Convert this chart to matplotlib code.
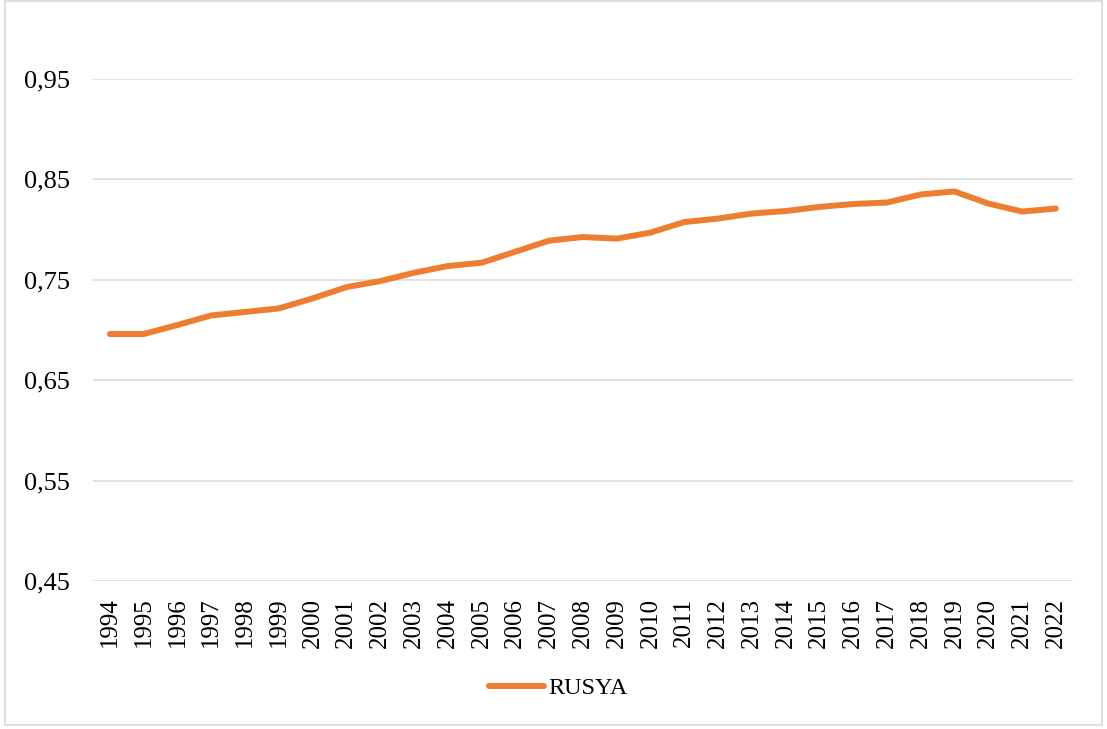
import matplotlib.pyplot as plt
from matplotlib.patches import Rectangle
from matplotlib.ticker import FuncFormatter

# HDI values
years = list(range(1994, 2023))
rusya = [0.696, 0.696, 0.705, 0.7145, 0.718, 0.7215, 0.7315, 0.7427, 0.7487, 0.757,
         0.7637, 0.767, 0.778, 0.789, 0.7926, 0.791, 0.797, 0.8075, 0.811, 0.816,
         0.8185, 0.8226, 0.8255, 0.827, 0.835, 0.838, 0.826, 0.818, 0.821]
series_label = 'RUSYA'
y_ticks = [0.45, 0.55, 0.65, 0.75, 0.85, 0.95]

plt.rcParams['font.family'] = ['Liberation Serif', 'DejaVu Serif']

fig = plt.figure(figsize=(11.07, 7.29), dpi=100)
ax = fig.add_axes([0.084, 0.203, 0.885, 0.6886])

x = list(range(len(years)))
ax.plot(x, rusya, color='#ED7D31', lw=4.3, solid_capstyle='round',
        solid_joinstyle='round', label=series_label)

ax.set_xlim(-0.5, len(years) - 0.5)
ax.set_ylim(0.45, 0.95)
ax.set_yticks(y_ticks)
ax.yaxis.set_major_formatter(FuncFormatter(lambda v, p: f'{v:.2f}'.replace('.', ',')))
ax.set_xticks(x)
ax.set_xticklabels([str(y) for y in years], rotation=90)
ax.tick_params(axis='y', length=0, pad=16.5, labelsize=19)
ax.tick_params(axis='x', length=0, pad=12, labelsize=18)

ax.grid(axis='y', color='#D9D9D9', lw=1.1)
ax.set_axisbelow(True)
for s in ax.spines.values():
    s.set_visible(False)

fig.legend(loc='center', bbox_to_anchor=(558 / 1107, 1 - 688 / 729), frameon=False,
           fontsize=17.5, handlelength=2.3, handletextpad=0.15)

# outer chart frame
fig.patches.append(Rectangle((0.0045, 0.0055), 0.991, 0.993, transform=fig.transFigure,
                             fill=False, edgecolor='#D9D9D9', lw=1.2))

plt.savefig('out.png')
